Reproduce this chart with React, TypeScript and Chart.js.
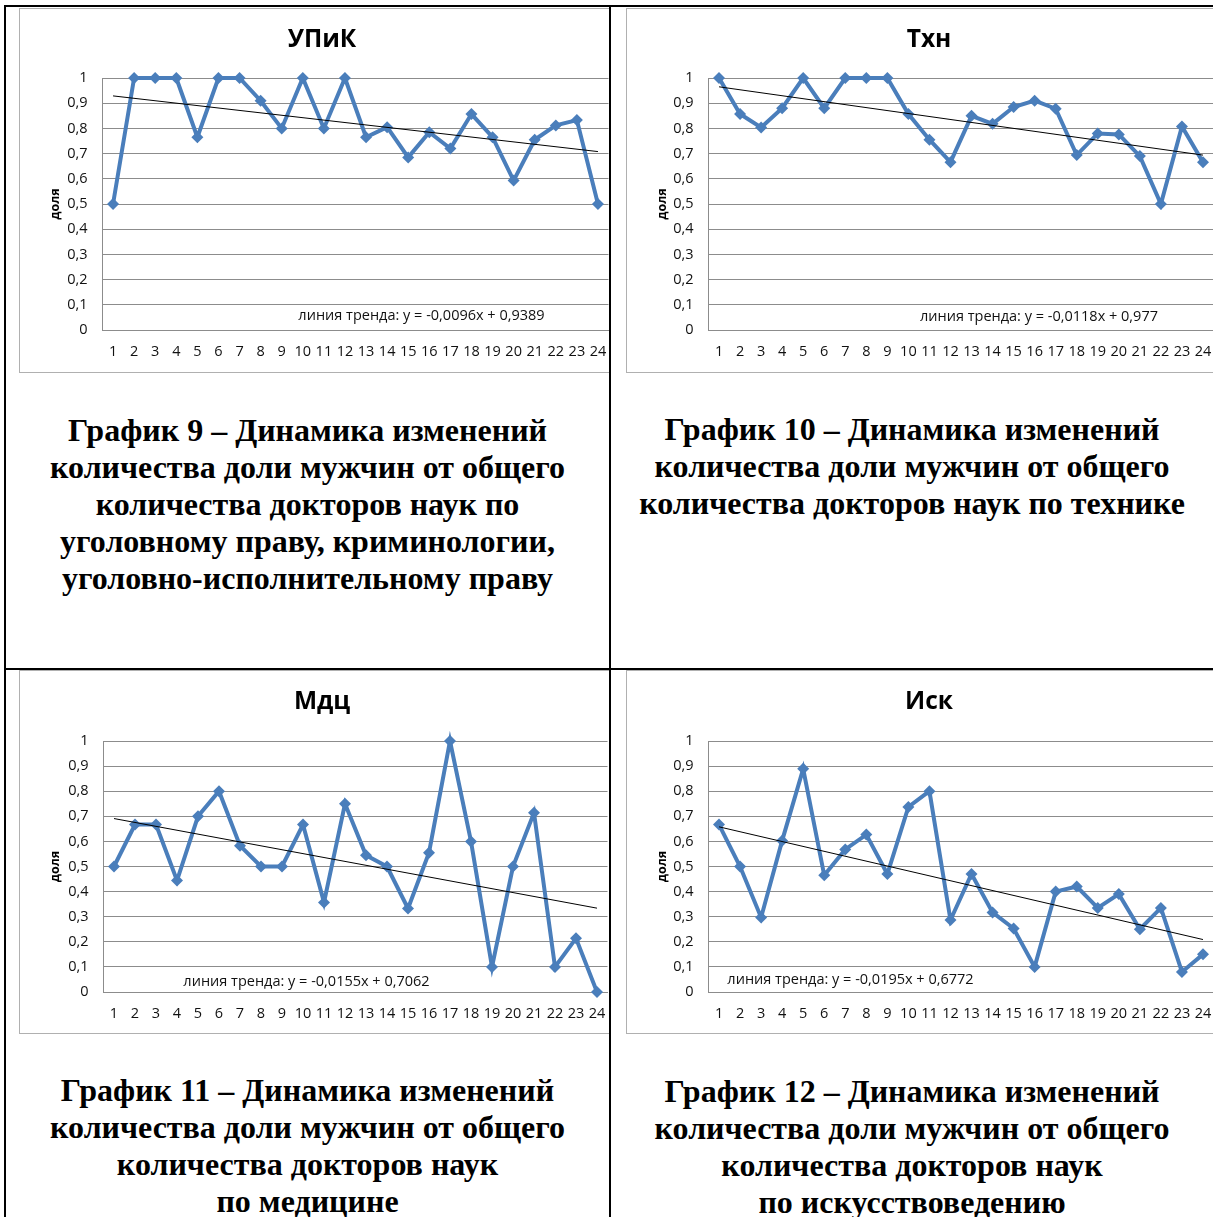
import { useEffect, useRef } from 'react';
import { Chart, registerables, type Plugin } from 'chart.js';

Chart.register(...registerables);

// categories 1..24 on the x axis
const categories = [
  '1', '2', '3', '4', '5', '6', '7', '8', '9', '10', '11', '12',
  '13', '14', '15', '16', '17', '18', '19', '20', '21', '22', '23', '24',
];

const yTickLabels = ['0', '0,1', '0,2', '0,3', '0,4', '0,5', '0,6', '0,7', '0,8', '0,9', '1'];

// share of men
const upikValues = [0.5, 1, 1, 1, 0.765, 1, 1, 0.91, 0.8, 1, 0.8, 1, 0.765, 0.805, 0.685, 0.785, 0.72, 0.857, 0.765, 0.593, 0.755, 0.812, 0.833, 0.5];
const txnValues = [1, 0.857, 0.804, 0.88, 1, 0.88, 1, 1, 1, 0.857, 0.755, 0.666, 0.85, 0.818, 0.885, 0.91, 0.878, 0.694, 0.78, 0.776, 0.69, 0.5, 0.808, 0.666];
const mdcValues = [0.5, 0.667, 0.667, 0.444, 0.7, 0.8, 0.583, 0.5, 0.5, 0.667, 0.357, 0.75, 0.545, 0.5, 0.333, 0.555, 1, 0.6, 0.1, 0.5, 0.714, 0.1, 0.214, 0];
const iskValues = [0.667, 0.5, 0.297, 0.603, 0.889, 0.465, 0.568, 0.627, 0.47, 0.737, 0.8, 0.287, 0.47, 0.317, 0.253, 0.1, 0.4, 0.42, 0.335, 0.39, 0.25, 0.335, 0.08, 0.15];

// trend line end points (at category 1 and 24)
const upikTrend = [0.929, 0.708];
const txnTrend = [0.965, 0.694];
const mdcTrend = [0.691, 0.334];
const iskTrend = [0.658, 0.209];

const chartTitles = ['УПиК', 'Тхн', 'Мдц', 'Иск'];
const trendTexts = [
  'линия тренда: y = -0,0096x + 0,9389',
  'линия тренда: y = -0,0118x + 0,977',
  'линия тренда: y = -0,0155x + 0,7062',
  'линия тренда: y = -0,0195x + 0,6772',
];

const captions = [
  ['График 9 – Динамика изменений', 'количества доли мужчин от общего', 'количества докторов наук по', 'уголовному праву, криминологии,', 'уголовно-исполнительному праву'],
  ['График 10 – Динамика изменений', 'количества доли мужчин от общего', 'количества докторов наук по технике'],
  ['График 11 – Динамика изменений', 'количества доли мужчин от общего', 'количества докторов наук', 'по медицине'],
  ['График 12 – Динамика изменений', 'количества доли мужчин от общего', 'количества докторов наук', 'по искусствоведению'],
];

const SANS = '"Open Sans", "DejaVu Sans", sans-serif';
const BLUE = '#4a7ebb';
const GRID = '#8c8c8c';

// chart title (centred on the whole chart object, like Excel) and the trend label
const excelTextPlugin: Plugin<'line'> = {
  id: 'excelText',
  afterDatasetsDraw(chart, _args, opts: any) {
    const { ctx, chartArea, width } = chart;
    ctx.save();
    ctx.textAlign = 'center';
    ctx.textBaseline = 'middle';
    ctx.fillStyle = '#000';
    ctx.font = `bold 24.5px ${SANS}`;
    ctx.fillText(opts.title, width / 2, 31);
    ctx.font = `14.5px ${SANS}`;
    ctx.fillStyle = '#111';
    ctx.fillText(opts.text, chartArea.left + opts.dx, chartArea.bottom - opts.dy);
    ctx.restore();
  },
};

interface ChartProps {
  title: string;
  values: number[];
  trend: number[];
  trendText: string;
  labelDx: number;
  labelDy: number;
  height: number;
  areaTop: number;
  areaLeft: number;
  padRight: number;
}

function TrendChart(p: ChartProps) {
  const canvasRef = useRef<HTMLCanvasElement>(null);

  useEffect(() => {
    if (!canvasRef.current) return;

    const chart = new Chart(canvasRef.current, {
      type: 'line',
      plugins: [excelTextPlugin],
      data: {
        labels: categories,
        datasets: [
          {
            data: p.values,
            borderColor: BLUE,
            backgroundColor: BLUE,
            borderWidth: 4,
            pointStyle: 'rectRot',
            pointRadius: 6,
            pointBackgroundColor: BLUE,
            pointBorderColor: BLUE,
            pointBorderWidth: 0,
            tension: 0,
            clip: false,
            order: 1,
          },
          {
            data: [
              { x: categories[0], y: p.trend[0] },
              { x: categories[categories.length - 1], y: p.trend[1] },
            ] as any,
            borderColor: '#000',
            borderWidth: 1,
            pointRadius: 0,
            tension: 0,
            order: 0,
          },
        ],
      },
      options: {
        animation: false,
        responsive: true,
        maintainAspectRatio: false,
        layout: { padding: { left: 0, top: p.areaTop, right: p.padRight, bottom: 0 } },
        plugins: {
          legend: { display: false },
          tooltip: { enabled: false },
          title: { display: false },
          // @ts-ignore
          excelText: { title: p.title, text: p.trendText, dx: p.labelDx, dy: p.labelDy },
        },
        scales: {
          x: {
            type: 'category',
            offset: true,
            grid: { display: false, drawTicks: false },
            border: { display: true, color: GRID, width: 1 },
            ticks: {
              color: '#111',
              font: { family: SANS, size: 14.5 },
              padding: 13,
              autoSkip: false,
              maxRotation: 0,
              minRotation: 0,
            },
            afterFit: (s) => { s.height = p.height - 321; },
          },
          y: {
            min: 0,
            max: 1,
            grid: { color: GRID, lineWidth: 1, drawTicks: false },
            border: { display: true, color: GRID, width: 1 },
            ticks: {
              stepSize: 0.1,
              color: '#111',
              font: { family: SANS, size: 14.5 },
              padding: 15,
              callback: (_v, i) => yTickLabels[i],
            },
            title: {
              display: true,
              text: 'доля',
              color: '#000',
              font: { family: SANS, size: 12.5, weight: 'bold', lineHeight: 1.2 },
              padding: { top: 27.5, bottom: 0 },
            },
            afterFit: (s) => { s.width = p.areaLeft; },
          },
        },
      },
    });

    return () => chart.destroy();
  }, [p.title, p.values, p.trend, p.trendText, p.labelDx, p.labelDy, p.height, p.areaTop, p.areaLeft, p.padRight]);

  return (
    <div style={{ width: 604, height: p.height, position: 'relative' }}>
      <canvas ref={canvasRef} />
    </div>
  );
}

function Caption({ lines, top }: { lines: string[]; top: number }) {
  return (
    <div style={{
      position: 'absolute', left: 0, right: 0, top,
      fontFamily: '"Liberation Serif", "Times New Roman", serif',
      fontWeight: 'bold', fontSize: 32, lineHeight: '37.2px',
      textAlign: 'center', color: '#000',
    }}>
      {lines.map(l => <div key={l} style={{ whiteSpace: 'nowrap' }}>{l}</div>)}
    </div>
  );
}

const frame: React.CSSProperties = {
  position: 'absolute', border: '1px solid #b0b0b0', background: '#fff',
};

export default function App() {
  const line = (s: React.CSSProperties) => <div style={{ position: 'absolute', background: '#000', ...s }} />;
  return (
    <div style={{ position: 'absolute', left: 0, top: 0, width: 1213, height: 1217, overflow: 'hidden', background: '#fff' }}>
      {/* top-left cell */}
      <div style={{ position: 'absolute', left: 6, top: 7, width: 603, height: 661, overflow: 'hidden' }}>
        <div style={{ ...frame, left: 13, top: 1 }}>
          <TrendChart title={chartTitles[0]} values={upikValues} trend={upikTrend} trendText={trendTexts[0]}
            labelDx={319} labelDy={14} height={363} areaTop={69} areaLeft={82.5} padRight={15.5} />
        </div>
        <Caption lines={captions[0]} top={404.5} />
      </div>
      {/* top-right cell */}
      <div style={{ position: 'absolute', left: 611, top: 7, width: 602, height: 661, overflow: 'hidden' }}>
        <div style={{ ...frame, left: 15, top: 1 }}>
          <TrendChart title={chartTitles[1]} values={txnValues} trend={txnTrend} trendText={trendTexts[1]}
            labelDx={330.5} labelDy={13} height={363} areaTop={69} areaLeft={81.5} padRight={17.5} />
        </div>
        <Caption lines={captions[1]} top={403.5} />
      </div>
      {/* bottom-left cell */}
      <div style={{ position: 'absolute', left: 6, top: 670, width: 603, height: 547, overflow: 'hidden' }}>
        <div style={{ ...frame, left: 13, top: 0 }}>
          <TrendChart title={chartTitles[2]} values={mdcValues} trend={mdcTrend} trendText={trendTexts[2]}
            labelDx={203} labelDy={10} height={362} areaTop={70} areaLeft={83.5} padRight={16.5} />
        </div>
        <Caption lines={captions[2]} top={401.5} />
      </div>
      {/* bottom-right cell */}
      <div style={{ position: 'absolute', left: 611, top: 670, width: 602, height: 547, overflow: 'hidden' }}>
        <div style={{ ...frame, left: 15, top: 0 }}>
          <TrendChart title={chartTitles[3]} values={iskValues} trend={iskTrend} trendText={trendTexts[3]}
            labelDx={142} labelDy={12} height={362} areaTop={70} areaLeft={81.5} padRight={17.5} />
        </div>
        <Caption lines={captions[3]} top={402.5} />
      </div>
      {/* table borders */}
      {line({ left: 4, top: 5, width: 1209, height: 2 })}
      {line({ left: 4, top: 5, width: 2, height: 1212 })}
      {line({ left: 609, top: 5, width: 2, height: 1212 })}
      {line({ left: 4, top: 668, width: 1209, height: 2 })}
    </div>
  );
}
